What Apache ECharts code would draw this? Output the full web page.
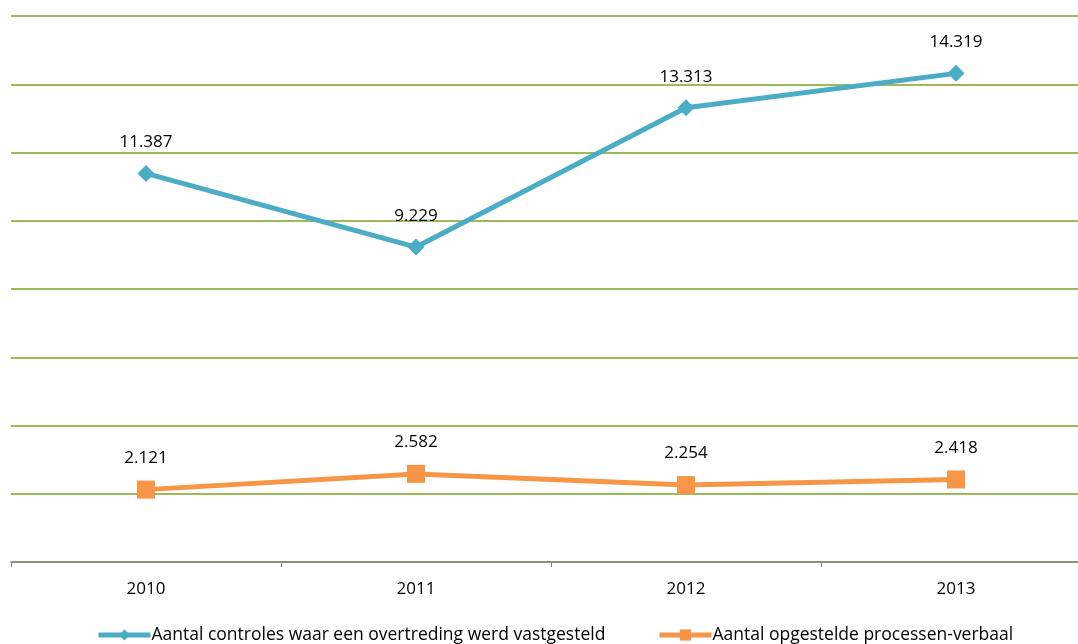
<!DOCTYPE html>
<html><head><meta charset="utf-8">
<script src="https://cdn.jsdelivr.net/npm/echarts@6/dist/echarts.min.js"></script>
<style>html,body{margin:0;padding:0;background:#fff}#c{width:1078px;height:644px}</style>
</head><body><div id="c"></div>
<script>
const categories = ['2010', '2011', '2012', '2013'];
const seriesNames = ['Aantal controles waar een overtreding werd vastgesteld', 'Aantal opgestelde processen-verbaal'];
const controles = [11.387, 9.229, 13.313, 14.319];
const processen = [2.121, 2.582, 2.254, 2.418];
const fmt = v => v.toFixed(3);
const font = 'Open Sans';
const chart = echarts.init(document.getElementById('c'));
chart.setOption({
  animation: false,
  textStyle: { fontFamily: font },
  grid: { left: 11, width: 1080, top: 16, bottom: 82, containLabel: false, outerBoundsMode: 'none' },
  legend: [
    { data: [seriesNames[0]], left: 91, top: 621, itemWidth: 52, itemHeight: 14, itemGap: 4,
      lineStyle: { width: 5 },
      textStyle: { fontSize: 17.5, color: '#000', fontFamily: font, padding: [0,0,0,-4] } },
    { data: [seriesNames[1]], left: 652, top: 621, itemWidth: 52, itemHeight: 14,
      lineStyle: { width: 5 },
      textStyle: { fontSize: 17.5, color: '#000', fontFamily: font, padding: [0,0,0,-4] } }
  ],
  xAxis: {
    type: 'category', data: categories, boundaryGap: true,
    axisLine: { lineStyle: { color: '#868686', width: 1.5 } },
    axisTick: { show: true, length: 5, lineStyle: { color: '#868686' } },
    axisLabel: { fontSize: 17, color: '#000', margin: 19, fontFamily: font }
  },
  yAxis: {
    type: 'value', min: 0, max: 16, interval: 2,
    axisLabel: { show: false }, axisLine: { show: false }, axisTick: { show: false },
    splitLine: { lineStyle: { color: '#9BBB59', width: 2 } }
  },
  series: [
    { name: seriesNames[0], type: 'line', data: controles, symbol: 'diamond', symbolSize: 17,
      color: '#4BACC6', lineStyle: { width: 5, color: '#4BACC6' }, itemStyle: { color: '#4BACC6' },
      label: { show: true, position: 'top', distance: 14, fontSize: 17, color: '#000', formatter: p => fmt(p.value), fontFamily: font } },
    { name: seriesNames[1], type: 'line', data: processen, symbol: 'rect', symbolSize: 18,
      color: '#F79646', lineStyle: { width: 5, color: '#F79646' }, itemStyle: { color: '#F79646' },
      label: { show: true, position: 'top', distance: 14, fontSize: 17, color: '#000', formatter: p => fmt(p.value), fontFamily: font } }
  ]
});
</script></body></html>
